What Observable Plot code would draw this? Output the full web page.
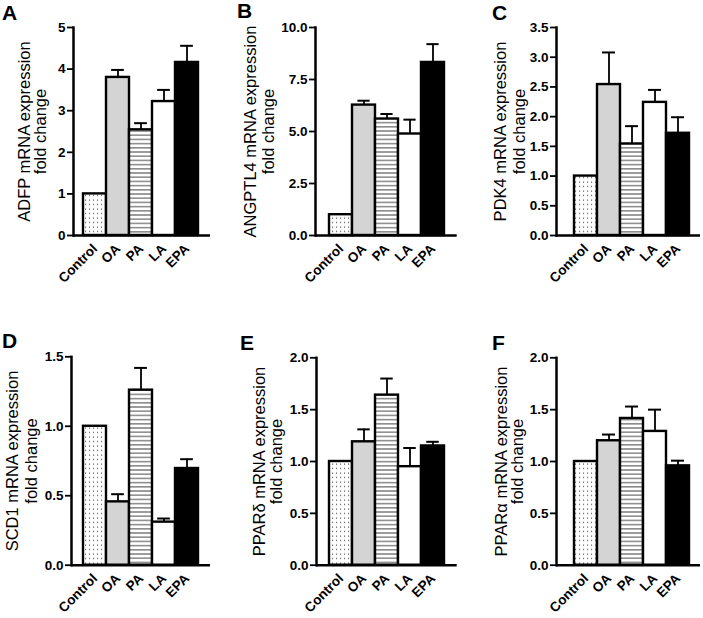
<!DOCTYPE html>
<html><head><meta charset="utf-8">
<script src="https://cdn.jsdelivr.net/npm/d3@7"></script>
<script src="https://cdn.jsdelivr.net/npm/@observablehq/plot@0.6"></script>
<style>
body{margin:0;background:#fff;}
#fig{position:relative;width:703px;height:618px;overflow:hidden;background:#fff;font-family:"Liberation Sans",Arial,Helvetica,sans-serif;}
.panel{position:absolute;}
.letter{position:absolute;font-weight:bold;font-size:21px;line-height:21px;color:#000;}
</style></head><body>
<svg width="0" height="0" style="position:absolute"><defs>
<pattern id="pat-dots" width="4" height="4.5" patternUnits="userSpaceOnUse"><rect width="4" height="4.5" fill="#fff"/><rect x="1" y="1.5" width="1.1" height="1.1" fill="#444"/></pattern>
<pattern id="pat-stripes" width="4" height="4.2" patternUnits="userSpaceOnUse"><rect width="4" height="4.2" fill="#fff"/><rect y="0" width="4" height="1.6" fill="#8c8c8c"/></pattern>
</defs></svg>
<div id="fig"></div>
<script>
// ---- data ----
const categories = ["Control", "OA", "PA", "LA", "EPA"];

const adfpMean    = [1.00, 3.80, 2.54, 3.22, 4.16];
const adfpSem     = [0.00, 0.18, 0.16, 0.28, 0.40];
const angptl4Mean = [1.00, 6.27, 5.60, 4.88, 8.32];
const angptl4Sem  = [0.00, 0.21, 0.24, 0.69, 0.88];
const pdk4Mean    = [1.00, 2.54, 1.54, 2.24, 1.72];
const pdk4Sem     = [0.00, 0.54, 0.30, 0.21, 0.27];
const scd1Mean    = [1.00, 0.456, 1.26, 0.31, 0.696];
const scd1Sem     = [0.00, 0.055, 0.16, 0.026, 0.067];
const ppardMean   = [1.00, 1.19, 1.64, 0.95, 1.15];
const ppardSem    = [0.00, 0.12, 0.16, 0.18, 0.04];
const pparaMean   = [1.00, 1.20, 1.415, 1.29, 0.958];
const pparaSem    = [0.00, 0.06, 0.115, 0.21, 0.05];

const ticksA = [0, 1, 2, 3, 4, 5];
const ticksB = [0, 2.5, 5, 7.5, 10];
const ticksC = [0, 0.5, 1, 1.5, 2, 2.5, 3, 3.5];
const ticksD = [0, 0.5, 1, 1.5];
const ticksE = [0, 0.5, 1, 1.5, 2];
const ticksF = [0, 0.5, 1, 1.5, 2];

const panelLetters = ["A", "B", "C", "D", "E", "F"];
const titleLine1 = [
  "ADFP mRNA expression",
  "ANGPTL4 mRNA expression",
  "PDK4 mRNA expression",
  "SCD1 mRNA expression",
  "PPARδ mRNA expression",
  "PPARα mRNA expression"
];
const titleLine2 = ["fold change", "fold change", "fold change", "fold change", "fold change", "fold change"];

// ---- styles / layout ----
const fillFor = ["url(#pat-dots)", "#d4d4d4", "url(#pat-stripes)", "#ffffff", "#000000"];

const panels = [
  {mean: adfpMean, sem: adfpSem, ticks: ticksA, fmt: d3.format("d")},
  {mean: angptl4Mean, sem: angptl4Sem, ticks: ticksB, fmt: d3.format(".1f")},
  {mean: pdk4Mean, sem: pdk4Sem, ticks: ticksC, fmt: d3.format(".1f")},
  {mean: scd1Mean, sem: scd1Sem, ticks: ticksD, fmt: d3.format(".1f")},
  {mean: ppardMean, sem: ppardSem, ticks: ticksE, fmt: d3.format(".1f")},
  {mean: pparaMean, sem: pparaSem, ticks: ticksF, fmt: d3.format(".1f")}
];

const layout = [
  {left: 0,   top: 0,   width: 235, axisX: 73,  yTop: 27,    y0: 235,   barL: 82.7,  barR: 199,   xEnd: 210,   t1: -49, t2: -33, lx: 2,   ly: 2},
  {left: 235, top: 0,   width: 235, axisX: 315, yTop: 27,    y0: 235,   barL: 326.7, barR: 445.7, xEnd: 456.7, t1: -65, t2: -47, lx: 237, ly: 0},
  {left: 470, top: 0,   width: 233, axisX: 556, yTop: 27,    y0: 235,   barL: 574,   barR: 689,   xEnd: 700,   t1: -56, t2: -37, lx: 492, ly: 2},
  {left: 0,   top: 318, width: 235, axisX: 71,  yTop: 356.3, y0: 564.7, barL: 82.7,  barR: 199,   xEnd: 210,   t1: -59, t2: -40, lx: 2,   ly: 330},
  {left: 235, top: 318, width: 235, axisX: 316, yTop: 357.3, y0: 564.7, barL: 328,   barR: 445.7, xEnd: 456.7, t1: -57, t2: -40, lx: 240, ly: 332},
  {left: 470, top: 318, width: 233, axisX: 556, yTop: 357.3, y0: 564.7, barL: 574,   barR: 689,   xEnd: 700,   t1: -55, t2: -39, lx: 492, ly: 332}
];

const fig = document.getElementById("fig");
const PANEL_H = 300;
const CAP = 13;
const FONT = '"Liberation Sans", Arial, Helvetica, sans-serif';

panels.forEach((p, i) => {
  const L = layout[i];
  const data = categories.map((c, j) => ({cat: c, mean: p.mean[j], sem: p.sem[j]}));
  const withErr = data.filter(d => d.sem > 0);
  const ml = L.axisX - L.left;
  const mt = L.yTop - L.top;
  const mb = PANEL_H - (L.y0 - L.top);
  const mr = L.width - (L.xEnd - L.left);
  const insetLeft = L.barL - L.axisX;
  const insetRight = L.xEnd - L.barR;
  const bw = (L.barR - L.barL) / categories.length;
  const capInset = (bw - CAP) / 2;

  const chart = Plot.plot({
    width: L.width,
    height: PANEL_H,
    marginLeft: ml,
    marginTop: mt,
    marginBottom: mb,
    marginRight: mr,
    style: {fontFamily: FONT, fontSize: "13px", fontWeight: "bold", overflow: "visible", background: "transparent", color: "#000"},
    x: {domain: categories, padding: 0, insetLeft, insetRight, axis: null},
    y: {domain: [0, d3.max(p.ticks)], axis: null},
    color: {type: "ordinal", domain: categories, range: fillFor},
    marks: [
      Plot.ruleX(withErr, {x: "cat", y1: "mean", y2: d => d.mean + d.sem, stroke: "#000", strokeWidth: 1.8}),
      Plot.tickY(withErr, {x: "cat", y: d => d.mean + d.sem, stroke: "#000", strokeWidth: 2, insetLeft: capInset, insetRight: capInset}),
      Plot.barY(data, {x: "cat", y: "mean", fill: "cat", stroke: "#000", strokeWidth: 2.4}),
      Plot.axisY({ticks: p.ticks, tickFormat: p.fmt, tickSize: 6, tickPadding: 2, strokeWidth: 1.8, fontSize: 13.5, fontWeight: "bold", label: null}),
      Plot.axisX({tickSize: 0, tickRotate: -45, tickPadding: 11, dx: 0, fontSize: 13.5, fontWeight: "bold", label: null}),
      Plot.frame({anchor: "left", stroke: "#000", strokeWidth: 2.5}),
      Plot.ruleY([0], {stroke: "#000", strokeWidth: 2.5}),
      Plot.text([titleLine1[i]], {frameAnchor: "left", rotate: -90, dx: L.t1, fontSize: 16.5, fontWeight: "normal", textAnchor: "middle", fill: "#000"}),
      Plot.text([titleLine2[i]], {frameAnchor: "left", rotate: -90, dx: L.t2, fontSize: 16.5, fontWeight: "normal", textAnchor: "middle", fill: "#000"})
    ]
  });
  chart.classList.add("panel");
  chart.style.left = L.left + "px";
  chart.style.top = L.top + "px";
  fig.appendChild(chart);

  const letter = document.createElement("div");
  letter.className = "letter";
  letter.textContent = panelLetters[i];
  letter.style.left = L.lx + "px";
  letter.style.top = L.ly + "px";
  fig.appendChild(letter);
});
</script>
</body></html>
